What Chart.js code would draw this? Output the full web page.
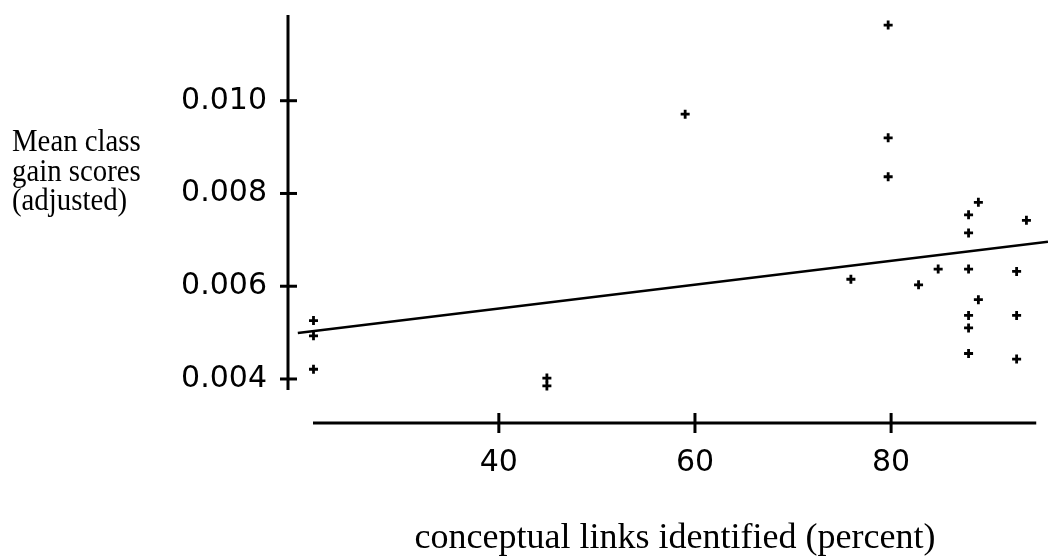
<!DOCTYPE html>
<html>
<head>
<meta charset="utf-8">
<script src="https://cdn.jsdelivr.net/npm/chart.js@4/dist/chart.umd.min.js"></script>
<style>
  html, body { margin: 0; padding: 0; background: #fff; overflow: hidden; }
  canvas { display: block; }
</style>
</head>
<body>
<canvas id="gainChart" width="1048" height="556"></canvas>
<script>
// scatter data: conceptual links identified (%) vs mean class gain
const linksPct = [21.1, 21.1, 21.1, 44.9, 44.9, 59.0, 75.9, 79.7, 79.7, 79.7, 82.8, 84.8, 87.9, 87.9, 87.9, 87.9, 87.9, 87.9,
  88.9, 88.9, 92.8, 92.8, 92.8, 93.8];
const gainScore = [0.00526, 0.00493, 0.00421, 0.00402, 0.00385, 0.00971, 0.00615, 0.01163, 0.00920, 0.00836,
  0.00603, 0.00637, 0.00754, 0.00715, 0.00637, 0.00537, 0.00510, 0.00455, 0.00781, 0.00571,
  0.00632, 0.00537, 0.00443, 0.00742];
// fitted regression line end points
const fitX = [19.5, 96];
const fitY = [0.00499, 0.00696];

const xTicks = [40, 60, 80];
const yTicks = [0.004, 0.006, 0.008, 0.010];
const yTickLabels = ['0.004', '0.006', '0.008', '0.010'];

const yTitle = ['Mean class', 'gain scores', '(adjusted)'];
const xTitle = 'conceptual links identified (percent)';

const $ = id => document.getElementById(id);

// base-graphics style axes: detached lines, ticks crossing the line, free text titles
const axesPlugin = {
  id: 'axesPlugin',
  afterDraw(chart) {
    const ctx = chart.ctx;
    const xs = chart.scales.x, ys = chart.scales.y;
    const xAxisY = ys.getPixelForValue(0.003051);
    const yAxisX = xs.getPixelForValue(18.5);
    ctx.save();
    ctx.strokeStyle = '#000';
    ctx.lineWidth = 3;
    ctx.lineCap = 'butt';

    // y axis
    ctx.beginPath();
    ctx.moveTo(yAxisX, ys.getPixelForValue(0.01185));
    ctx.lineTo(yAxisX, ys.getPixelForValue(0.00376));
    ctx.stroke();
    yTicks.forEach(v => {
      const py = ys.getPixelForValue(v);
      ctx.beginPath();
      ctx.moveTo(yAxisX - 8, py);
      ctx.lineTo(yAxisX + 9, py);
      ctx.stroke();
    });

    // x axis
    ctx.beginPath();
    ctx.moveTo(xs.getPixelForValue(21.05), xAxisY);
    ctx.lineTo(xs.getPixelForValue(94.8), xAxisY);
    ctx.stroke();
    xTicks.forEach(v => {
      const px = xs.getPixelForValue(v);
      ctx.beginPath();
      ctx.moveTo(px, xAxisY - 10);
      ctx.lineTo(px, xAxisY + 10);
      ctx.stroke();
    });

    // titles
    ctx.fillStyle = '#000';
    ctx.font = '32px "Liberation Serif", "Times New Roman", serif';
    ctx.textBaseline = 'middle';
    ctx.textAlign = 'left';
    ctx.save();
    ctx.translate(12, 0);
    ctx.scale(0.9, 1);
    yTitle.forEach((line, i) => ctx.fillText(line, 0, 143 + i * 29.5));
    ctx.restore();
    ctx.font = '36px "Liberation Serif", "Times New Roman", serif';
    ctx.textAlign = 'center';
    ctx.fillText(xTitle, 675, 539);
    ctx.restore();
  }
};

new Chart($('gainChart'), {
  type: 'scatter',
  data: {
    datasets: [{
      label: 'classes',
      data: linksPct.map((x, i) => ({ x, y: gainScore[i] })),
      pointStyle: 'cross',
      pointRadius: 4.5,
      pointBorderWidth: 2.8,
      borderColor: '#000',
      backgroundColor: '#000'
    }, {
      type: 'line',
      label: 'fit',
      data: fitX.map((x, i) => ({ x, y: fitY[i] })),
      borderColor: '#000',
      borderWidth: 2.6,
      pointRadius: 0,
      fill: false
    }]
  },
  options: {
    responsive: false,
    animation: false,
    events: [],
    layout: { autoPadding: false, padding: { top: 15, right: 0, left: 0, bottom: 0 } },
    plugins: { legend: { display: false }, tooltip: { enabled: false } },
    scales: {
      x: {
        type: 'linear',
        min: 18.5,
        max: 96,
        grid: { display: false, drawTicks: false },
        border: { display: false },
        afterBuildTicks: s => { s.ticks = xTicks.map(v => ({ value: v })); },
        afterFit: s => { s.height = 133; s.paddingLeft = 0; s.paddingRight = 0; },
        ticks: {
          padding: 22,
          color: '#000',
          font: { family: '"DejaVu Sans", sans-serif', size: 30 },
          callback: v => String(v)
        }
      },
      y: {
        type: 'linear',
        min: 0.003051,
        max: 0.011848,
        grid: { display: false, drawTicks: false },
        border: { display: false },
        afterBuildTicks: s => { s.ticks = yTicks.map(v => ({ value: v })); },
        afterFit: s => { s.width = 288; s.paddingTop = 0; s.paddingBottom = 0; },
        ticks: {
          padding: 21,
          color: '#000',
          font: { family: '"DejaVu Sans", sans-serif', size: 30 },
          callback: v => yTickLabels[yTicks.findIndex(t => Math.abs(t - v) < 1e-9)]
        }
      }
    }
  },
  plugins: [axesPlugin]
});
</script>
</body>
</html>
